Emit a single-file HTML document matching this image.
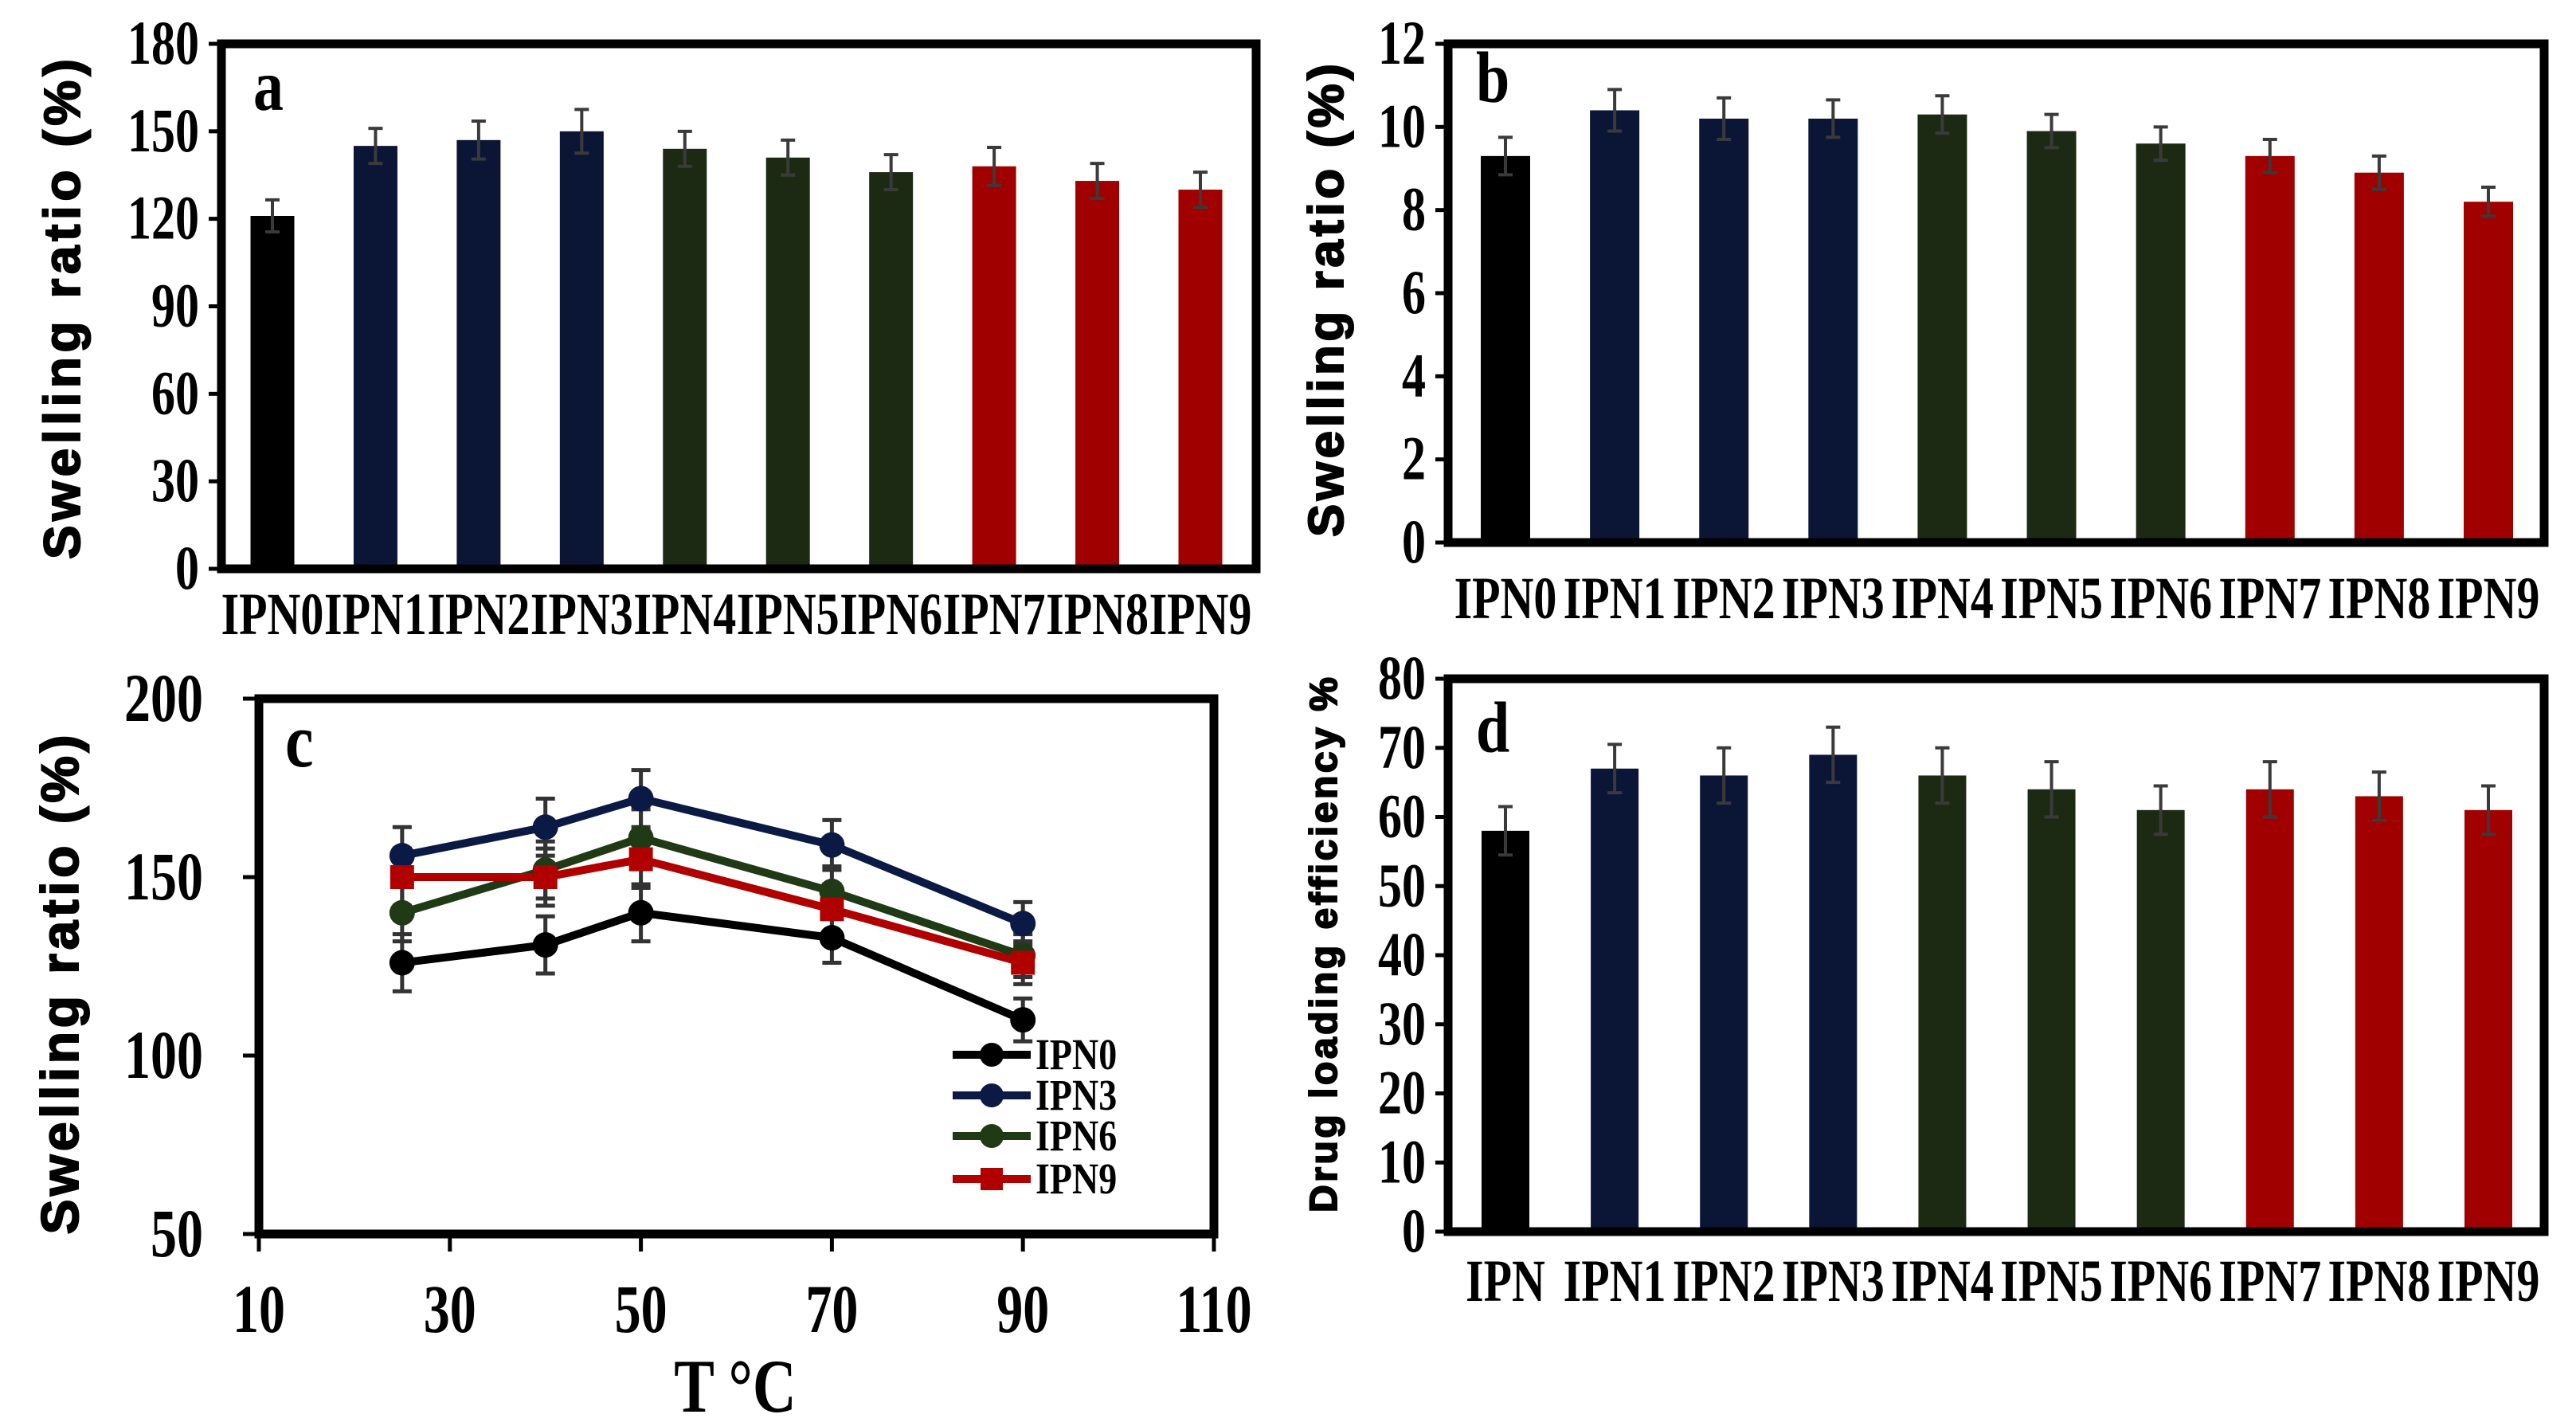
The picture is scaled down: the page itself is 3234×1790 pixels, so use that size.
<!DOCTYPE html>
<html><head><meta charset="utf-8">
<style>
html,body{margin:0;padding:0;background:#fff;}
svg{display:block;}
text{font-family:"Liberation Serif",serif;font-weight:bold;fill:#000;}
.sans{font-family:"Liberation Sans",sans-serif;font-weight:900;stroke:#000;stroke-width:2;}
</style></head>
<body>
<svg id="fig" width="3234" height="1790" viewBox="0 0 3234 1790" xmlns="http://www.w3.org/2000/svg"></svg>
<script>
const catsA = ["IPN0","IPN1","IPN2","IPN3","IPN4","IPN5","IPN6","IPN7","IPN8","IPN9"];
const catsD = ["IPN","IPN1","IPN2","IPN3","IPN4","IPN5","IPN6","IPN7","IPN8","IPN9"];
const valsA = [121,145,147,150,144,141,136,138,133,130];
const errA = [5.5,6,6.5,7.5,6,6,6,6.5,6,6];
const valsB = [9.3,10.4,10.2,10.2,10.3,9.9,9.6,9.3,8.9,8.2];
const errB = [0.45,0.5,0.5,0.45,0.45,0.4,0.4,0.4,0.4,0.35];
const valsD = [58,67,66,69,66,64,61,64,63,61];
const errD = [3.5,3.5,4,4,4,4,3.5,4,3.5,3.5];
const ticksA = [0,30,60,90,120,150,180];
const ticksB = [0,2,4,6,8,10,12];
const ticksD = [0,10,20,30,40,50,60,70,80];
const temps = [25,40,50,70,90];
const ipn0 = [126,131,140,133,110];
const ipn3 = [156,164,172,159,137];
const ipn6 = [140,152,161,146,128];
const ipn9 = [150,150,155,141,126];
const errC = [8,8,8,7,6];
const ticksCY = [50,100,150,200];
const ticksCX = [10,30,50,70,90,110];
const barColors = ["#000000","#0b1535","#0b1535","#0b1535","#1c2a14","#1c2a14","#1c2a14","#a00000","#a00000","#a00000"];

const NS = "http://www.w3.org/2000/svg";
const svg = document.getElementById('fig');
function mk(tag, attrs, parent){
  const e = document.createElementNS(NS, tag);
  for (const k in attrs) e.setAttribute(k, attrs[k]);
  (parent||svg).appendChild(e);
  return e;
}
// tall (vertically stretched) text; y is baseline
function tall(x, y, str, fs, anchor, sy, parent){
  const t = mk('text',{x:0,y:0,'text-anchor':anchor,'font-size':fs,transform:`translate(${x},${y}) scale(1,${sy})`}, parent);
  t.textContent = str;
  return t;
}

function barPanel(o){
  const g = mk('g',{});
  
  
  const ymax = o.ticks[o.ticks.length-1];
  const yS = v => o.bottom - (v/ymax)*(o.bottom-o.top);
  const n = o.cats.length;
  const step = (o.lastC - o.firstC)/(n-1);
  const xS = i => o.firstC + i*step;
  o.vals.forEach((v,i)=>{
    const b = mk('rect',{x:xS(i)-o.bw/2, y:yS(v), width:o.bw, height:o.bottom-yS(v), fill:barColors[i]}, g);
    
    
    const e1 = yS(v+o.errs[i]), e2 = yS(v-o.errs[i]);
    const eb = mk('path',{d:`M${xS(i)} ${e1}V${e2}M${xS(i)-9} ${e1}H${xS(i)+9}M${xS(i)-9} ${e2}H${xS(i)+9}`, stroke:'#3a3a3a','stroke-width':4, fill:'none'}, g);
    
    
    const t = tall(xS(i), o.catY, o.cats[i], o.catFs, 'middle', 1.3, g);
    
    
  });
  o.ticks.forEach(tv=>{
    mk('line',{x1:o.left-16,x2:o.left,y1:yS(tv),y2:yS(tv),stroke:'#000','stroke-width':5}, g);
    const t = tall(o.left-28, yS(tv)+25, String(tv), o.tickFs, 'end', 1.3, g);
    
    
  });
  const fr = mk('rect',{x:o.left,y:o.top,width:o.right-o.left,height:o.bottom-o.top,fill:'none',stroke:'#000','stroke-width':11}, g);
  
  
  const pl = tall(o.lblX, o.lblY, o.letter, 76, 'start', 1.2, g);
  
  
  const yt = mk('text',{class:'sans',x:0,y:0,'text-anchor':'middle','font-size':o.ytFs,
    transform:`translate(${o.ytX},${o.ytY}) rotate(-90)`, textLength:o.ytLen, lengthAdjust:'spacing'}, g);
  yt.textContent = o.ytitle;
  
  
}

barPanel({name:'panel-a',cats:catsA,vals:valsA,errs:errA,ticks:ticksA,left:278,right:1577,top:55,bottom:714,
  firstC:342,lastC:1507,bw:55,catY:796,catFs:58,tickFs:60,letter:'a',lblX:318,lblY:138,
  ytitle:'Swelling ratio (%)',ytX:100,ytY:388,ytFs:64,ytLen:628});
barPanel({name:'panel-b',cats:catsA,vals:valsB,errs:errB,ticks:ticksB,left:1818,right:3194,top:55,bottom:681,
  firstC:1890,lastC:3124,bw:62,catY:776,catFs:58,tickFs:60,letter:'b',lblX:1853,lblY:128,
  ytitle:'Swelling ratio (%)',ytX:1686,ytY:377,ytFs:62,ytLen:594});
barPanel({name:'panel-d',cats:catsD,vals:valsD,errs:errD,ticks:ticksD,left:1818,right:3194,top:852,bottom:1546,
  firstC:1890,lastC:3124,bw:60,catY:1633,catFs:58,tickFs:60,letter:'d',lblX:1853,lblY:944,
  ytitle:'Drug loading efficiency %',ytX:1678,ytY:1186,ytFs:48,ytLen:672});

(function(){
  const g = mk('g',{});
  
  
  const L=325,R=1524,T=877,B=1549;
  const xS = v => L + (v-10)/100*(R-L);
  const yS = v => B - (v-50)/150*(B-T);
  ticksCY.forEach(tv=>{
    mk('line',{x1:L-20,x2:L,y1:yS(tv),y2:yS(tv),stroke:'#000','stroke-width':5},g);
    const t = tall(L-70, yS(tv)+28, String(tv), 66, 'end', 1.3, g);
    
    
  });
  ticksCX.forEach(tv=>{
    mk('line',{x1:xS(tv),x2:xS(tv),y1:B,y2:B+22,stroke:'#000','stroke-width':5},g);
    const t = tall(xS(tv), 1672, String(tv), 66, 'middle', 1.3, g);
    
    
  });
  const series = [
    {n:'IPN0',d:ipn0,c:'#000000',m:'circle'},
    {n:'IPN3',d:ipn3,c:'#0b1a45',m:'circle'},
    {n:'IPN6',d:ipn6,c:'#1f3a14',m:'circle'},
    {n:'IPN9',d:ipn9,c:'#b00000',m:'square'}];
  series.forEach((s)=>{
    s.d.forEach((v,i)=>{
      const x=xS(temps[i]), e1=yS(v+errC[i]), e2=yS(v-errC[i]);
      const eb = mk('path',{d:`M${x} ${e1}V${e2}M${x-12} ${e1}H${x+12}M${x-12} ${e2}H${x+12}`,stroke:'#333','stroke-width':5,fill:'none'},g);
      
      
    });
  });
  series.forEach((s,si)=>{
    const pts = s.d.map((v,i)=>xS(temps[i])+','+yS(v)).join(' ');
    const pl = mk('polyline',{points:pts,fill:'none',stroke:s.c,'stroke-width':10},g);
    
    
    s.d.forEach((v,i)=>{
      const x=xS(temps[i]), y=yS(v);
      let m;
      if(s.m==='circle') m = mk('circle',{cx:x,cy:y,r:16,fill:s.c},g);
      else m = mk('rect',{x:x-15,y:y-15,width:30,height:30,fill:s.c},g);
      
      
    });
    const ly = [1324,1375,1426,1480][si];
    const lg = mk('g',{},g);
    
    
    mk('line',{x1:1196,x2:1294,y1:ly,y2:ly,stroke:s.c,'stroke-width':10},lg);
    if(s.m==='circle') mk('circle',{cx:1245,cy:ly,r:15,fill:s.c},lg);
    else mk('rect',{x:1231,y:ly-14,width:28,height:28,fill:s.c},lg);
    tall(1300, ly+18, s.n, 46, 'start', 1.2, lg);
  });
  const fr = mk('rect',{x:L,y:T,width:R-L,height:B-T,fill:'none',stroke:'#000','stroke-width':11},g);
  
  
  const lb = tall(358, 962, 'c', 80, 'start', 1.2, g);
  
  
  const xt = tall(923, 1772, 'T °C', 76, 'middle', 1.25, g);
  
  
  const yt = mk('text',{class:'sans',x:0,y:0,'text-anchor':'middle','font-size':66,
    transform:'translate(98,1236) rotate(-90)',textLength:627,lengthAdjust:'spacing'},g);
  yt.textContent='Swelling ratio (%)';
  
  
})();
</script>
</body></html>
